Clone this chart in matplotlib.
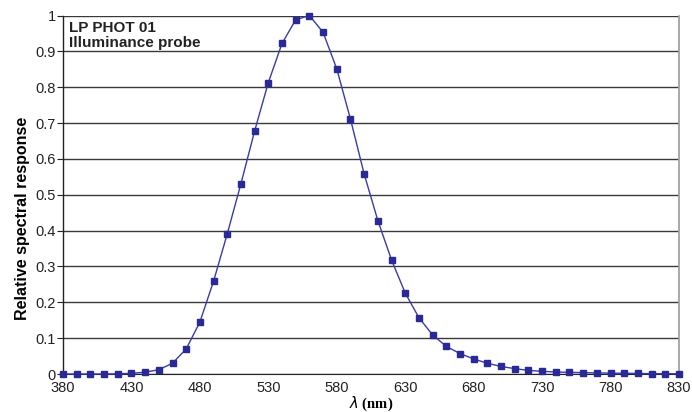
import matplotlib
matplotlib.use("Agg")
import matplotlib.pyplot as plt
import numpy as np

wavelength = list(range(380, 831, 10))
response = [0.0, 0.0, 0.0, 0.0, 0.0005, 0.002, 0.005, 0.012, 0.030, 0.070,
            0.145, 0.259, 0.391, 0.531, 0.678, 0.813, 0.922, 0.988, 1.0, 0.953,
            0.851, 0.711, 0.558, 0.428, 0.318, 0.226, 0.157, 0.109, 0.077, 0.057,
            0.042, 0.030, 0.021, 0.015, 0.010, 0.0075, 0.0056, 0.0047, 0.0037, 0.003,
            0.0025, 0.002, 0.0015, 0.001, 0.001, 0.0005]
xticks = list(range(380, 831, 50))
yticks = [0, 0.1, 0.2, 0.3, 0.4, 0.5, 0.6, 0.7, 0.8, 0.9, 1]
ytick_labels = ["0", "0.1", "0.2", "0.3", "0.4", "0.5", "0.6", "0.7", "0.8", "0.9", "1"]

plt.rcParams['font.family'] = ['Liberation Sans', 'DejaVu Sans']

fig = plt.figure(figsize=(6.92, 4.12), dpi=100)
ax = fig.add_axes([63/692, 1-374/412, (679-63)/692, (374-15.5)/412])

ax.plot(wavelength, response, color='#3a3aa8', lw=1.0, marker='s', ms=4.3,
        mfc='#2a2a96', mec='#2a2a96', zorder=3, clip_on=False)

ax.set_xlim(380, 830)
ax.set_ylim(0, 1)
ax.set_xticks(xticks)
ax.set_yticks(yticks)
ax.set_yticklabels(ytick_labels)
ax.tick_params(axis='x', length=0, labelsize=10.5, colors='#222222', pad=5)
ax.tick_params(axis='y', length=4, width=0.8, direction='out', labelsize=10.5,
               colors='#222222', pad=1)
ax.grid(axis='y', color='#3a3a3a', lw=1.0)
ax.set_axisbelow(True)

ax.spines['top'].set_visible(False)
ax.spines['left'].set_color('#222222')
ax.spines['bottom'].set_color('#222222')
ax.spines['right'].set_color('#999999')
ax.spines['left'].set_linewidth(1.0)
ax.spines['right'].set_linewidth(1.2)

ax.set_ylabel('Relative spectral response', fontsize=11.5, fontweight='bold')
ax.yaxis.set_label_coords(-0.054, 0.435)
ax.set_xlabel(r'$\lambda$ (nm)', fontsize=10.5, fontweight='bold', family='Liberation Serif', labelpad=0)

ax.text(0.009, 0.985, 'LP PHOT 01\nIlluminance probe', transform=ax.transAxes,
        ha='left', va='top', fontsize=11, fontweight='bold', color='#222222', linespacing=1.1)

fig.savefig('out.png', dpi=100)
